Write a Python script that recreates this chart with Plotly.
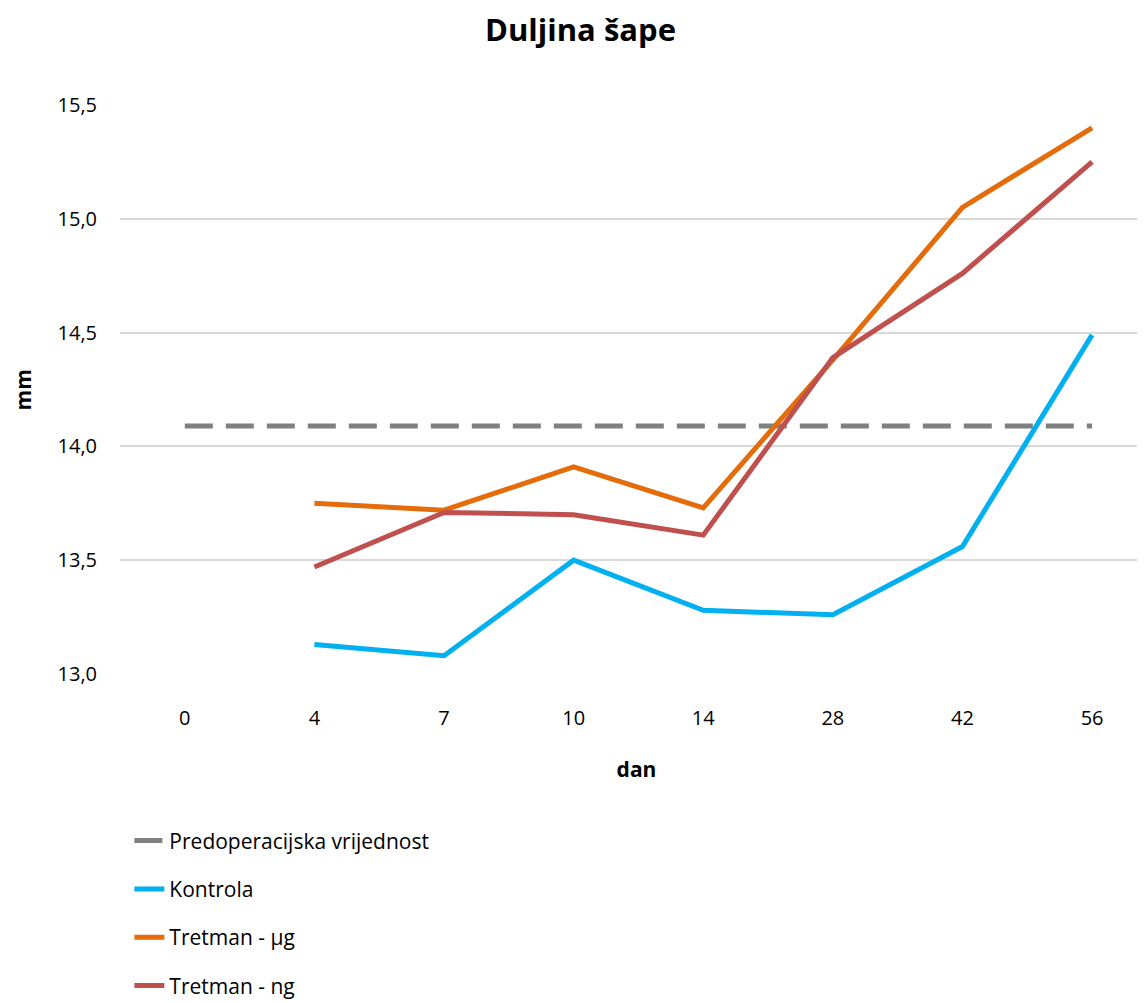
import plotly.graph_objects as go

days = ["0", "4", "7", "10", "14", "28", "42", "56"]
predop = [14.09, 14.09, 14.09, 14.09, 14.09, 14.09, 14.09, 14.09]
kontrola = [None, 13.13, 13.08, 13.50, 13.28, 13.26, 13.56, 14.49]
tretman_ug = [None, 13.75, 13.72, 13.91, 13.73, 14.38, 15.05, 15.40]
tretman_ng = [None, 13.47, 13.71, 13.70, 13.61, 14.39, 14.76, 15.25]

FONT = "Open Sans"

fig = go.Figure()
series = [
    ("Predoperacijska vrijednost", predop, "#808080", "28px,13px"),
    ("Kontrola", kontrola, "#00B0F0", "solid"),
    ("Tretman - µg", tretman_ug, "#E46C0A", "solid"),
    ("Tretman - ng", tretman_ng, "#C0504D", "solid"),
]
for i, (name, vals, color, dash) in enumerate(series):
    fig.add_trace(
        go.Scatter(
            x=days,
            y=vals,
            name=name,
            mode="lines",
            line=dict(color=color, width=5, dash=dash),
            legendgroup=f"g{i}",
            hoverinfo="x+y+name",
        )
    )

# y-axis title as a rotated annotation (keeps it pinned to the left edge)
fig.add_annotation(
    text="<b>mm</b>",
    xref="paper",
    yref="paper",
    x=-0.094,
    y=0.5,
    xanchor="center",
    yanchor="middle",
    textangle=-90,
    showarrow=False,
    font=dict(size=21, family=FONT),
)

fig.update_layout(
    width=1145,
    height=1003,
    paper_bgcolor="white",
    plot_bgcolor="white",
    separators=",.",
    font=dict(family=FONT, color="#000000", size=20),
    title=dict(
        text="<b>Duljina šape</b>",
        x=0.5,
        xanchor="center",
        y=0.978,
        yanchor="middle",
        font=dict(size=31, family=FONT),
    ),
    margin=dict(l=112, r=0, t=97, b=337, autoexpand=False),
    showlegend=True,
    legend=dict(
        xref="container",
        yref="container",
        x=0.106,
        y=0.19,
        xanchor="left",
        yanchor="top",
        orientation="v",
        tracegroupgap=18,
        font=dict(size=21, family=FONT),
        itemwidth=30,
    ),
    xaxis=dict(
        type="category",
        range=[-0.5, 7.47],
        showgrid=False,
        showline=False,
        zeroline=False,
        ticks="",
        ticklabelstandoff=30,
        tickfont=dict(size=20),
        title=dict(text="<b>dan</b>", font=dict(size=21), standoff=32),
    ),
    yaxis=dict(
        range=[13.0, 15.5],
        dtick=0.5,
        tick0=13.0,
        tickformat=".1f",
        showgrid=True,
        gridcolor="#D9D9D9",
        gridwidth=2,
        showline=False,
        zeroline=False,
        ticks="",
        ticklabelstandoff=22,
        tickfont=dict(size=20),
    ),
)

fig.write_html("out.html")
